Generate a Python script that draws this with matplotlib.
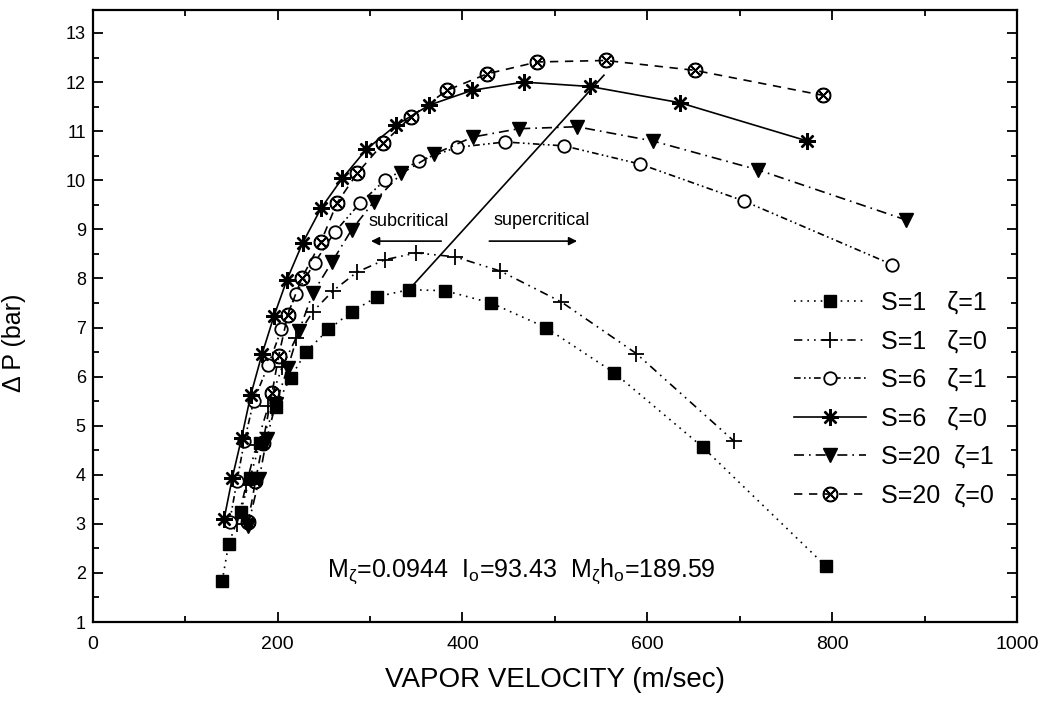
import matplotlib
matplotlib.use("Agg")
import matplotlib.pyplot as plt
from matplotlib.ticker import MultipleLocator

plt.rcParams['font.family'] = ['Liberation Sans', 'DejaVu Sans']
plt.rcParams['mathtext.fontset'] = 'custom'
plt.rcParams['mathtext.rm'] = 'Liberation Sans'
plt.rcParams['mathtext.it'] = 'Liberation Sans'

# vapor velocity (m/sec) and pressure drop (bar)
v_s1_z1 = [140, 147, 160, 170, 181, 198, 214, 231, 255, 280, 308, 342, 381, 431, 490, 564, 660, 793]
dp_s1_z1 = [1.83, 2.59, 3.25, 3.93, 4.65, 5.39, 5.98, 6.51, 6.96, 7.32, 7.63, 7.77, 7.75, 7.50, 7.00, 6.08, 4.56, 2.14]

v_s1_z0 = [156, 166, 177, 190, 205, 220, 238, 260, 286, 316, 350, 392, 441, 507, 588, 694]
dp_s1_z0 = [3.0, 3.8, 4.6, 5.4, 6.2, 6.79, 7.32, 7.75, 8.13, 8.38, 8.52, 8.44, 8.15, 7.52, 6.47, 4.68]

v_s6_z1 = [148, 156, 164, 174, 190, 204, 220, 240, 262, 289, 316, 353, 394, 446, 510, 592, 704, 865]
dp_s6_z1 = [3.03, 3.87, 4.68, 5.5, 6.24, 6.96, 7.69, 8.32, 8.95, 9.53, 10.0, 10.40, 10.67, 10.78, 10.70, 10.33, 9.58, 8.28]

v_s6_z0 = [142, 151, 161, 171, 183, 196, 210, 227, 247, 270, 296, 328, 364, 410, 466, 538, 635, 773]
dp_s6_z0 = [3.09, 3.94, 4.75, 5.63, 6.45, 7.23, 7.97, 8.72, 9.43, 10.04, 10.63, 11.12, 11.53, 11.83, 12.0, 11.91, 11.58, 10.80]

v_s20_z1 = [168, 180, 188, 198, 211, 223, 238, 259, 280, 304, 334, 369, 411, 461, 524, 606, 720, 880]
dp_s20_z1 = [2.96, 3.91, 4.72, 5.45, 6.18, 6.92, 7.70, 8.34, 8.99, 9.56, 10.14, 10.53, 10.88, 11.05, 11.09, 10.80, 10.21, 9.19]

v_s20_z0 = [168, 176, 184, 194, 201, 211, 226, 247, 264, 286, 314, 344, 383, 427, 481, 555, 651, 790]
dp_s20_z0 = [3.03, 3.87, 4.65, 5.67, 6.41, 7.26, 8.0, 8.75, 9.53, 10.14, 10.75, 11.29, 11.83, 12.17, 12.41, 12.44, 12.24, 11.73]

labels = ["S=1   \u03b6=1", "S=1   \u03b6=0", "S=6   \u03b6=1",
          "S=6   \u03b6=0", "S=20  \u03b6=1", "S=20  \u03b6=0"]

# critical line separating sub- and supercritical regimes
crit_v = [342, 553]
crit_dp = [7.77, 12.14]

fig = plt.figure(figsize=(10.54, 7.09), dpi=100)
ax = fig.add_axes([0.088, 0.1227, 0.877, 0.8633])

k = dict(color='black', lw=1.2)
ax.plot(v_s1_z1, dp_s1_z1, ls=(0, (1, 3)), marker='s', ms=9, mfc='black', label=labels[0], **k)
ax.plot(v_s1_z0, dp_s1_z0, ls=(0, (5, 3, 1, 3, 1, 3)), marker='+', ms=12, mew=1.3, label=labels[1], **k)
ax.plot(v_s6_z1, dp_s6_z1, ls=(0, (4, 2, 1, 2, 1, 2)), marker='o', ms=9, mfc='white', mew=1.3, label=labels[2], **k)
ax.plot(v_s6_z0, dp_s6_z0, ls='-', marker=(8, 2, 0), ms=12, mew=1.7, label=labels[3], **k)
ax.plot(v_s20_z1, dp_s20_z1, ls=(0, (6, 3, 1, 3)), marker='v', ms=10, mfc='black', label=labels[4], **k)
ax.plot(v_s20_z0, dp_s20_z0, ls=(0, (5, 4)), marker=r'$\otimes$', ms=10.5, label=labels[5], **k)

ax.plot(crit_v, crit_dp, color='black', lw=1.2)

ax.text(342, 9.15, "subcritical", fontsize=13, ha='center', va='center')
ax.text(486, 9.19, "supercritical", fontsize=13, ha='center', va='center')
ax.annotate('', xy=(298, 8.76), xytext=(380, 8.76),
            arrowprops=dict(arrowstyle='-|>', color='black', lw=1.2, mutation_scale=12))
ax.annotate('', xy=(527, 8.76), xytext=(426, 8.76),
            arrowprops=dict(arrowstyle='-|>', color='black', lw=1.2, mutation_scale=12))

ax.text(464, 2.04, r"$\mathrm{M}_\zeta$=0.0944  $\mathrm{I}_o$=93.43  $\mathrm{M}_\zeta\mathrm{h}_o$=189.59",
        fontsize=18, ha='center', va='center')

ax.set_xlim(0, 1000)
ax.set_ylim(1, 13.47)
ax.xaxis.set_major_locator(MultipleLocator(200))
ax.xaxis.set_minor_locator(MultipleLocator(100))
ax.yaxis.set_major_locator(MultipleLocator(1))
ax.yaxis.set_minor_locator(MultipleLocator(0.5))
ax.tick_params(which='both', direction='in', top=True, right=True, width=1.3)
ax.tick_params(which='major', length=7)
ax.tick_params(which='minor', length=4)
ax.tick_params(axis='x', labelsize=14, pad=10)
ax.tick_params(axis='y', labelsize=13, pad=5)
for s in ax.spines.values():
    s.set_linewidth(1.6)

ax.set_xlabel("VAPOR VELOCITY (m/sec)", fontsize=20, labelpad=10)
ax.set_ylabel("\u0394 P (bar)", fontsize=18)
ax.yaxis.set_label_coords(-0.072, 0.456)

ax.legend(loc='center left', bbox_to_anchor=(0.745, 0.364), frameon=False, fontsize=18,
          numpoints=1, handlelength=2.9, handletextpad=0.6, labelspacing=0.58, borderpad=0)

fig.savefig("out.png", dpi=100)
